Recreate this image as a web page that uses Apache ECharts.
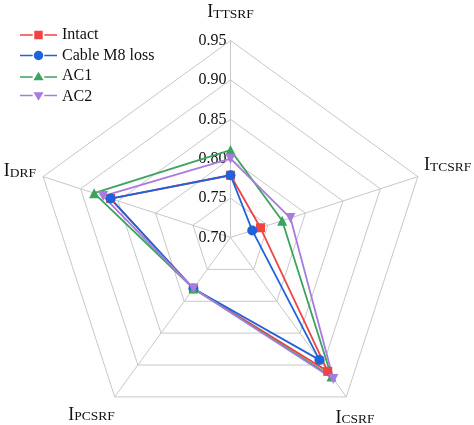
<!DOCTYPE html>
<html>
<head>
<meta charset="utf-8">
<script src="https://cdn.jsdelivr.net/npm/echarts@6/dist/echarts.min.js"></script>
<style>
  html, body { margin: 0; padding: 0; background: #fff; }
  #main { width: 474px; height: 425px; }
</style>
</head>
<body>
<div id="main"></div>
<script>
// indicators, counterclockwise from the top
const indicatorNames = ['ITTSRF', 'IDRF', 'IPCSRF', 'ICSRF', 'ITCSRF'];
const seriesNames = ['Intact', 'Cable M8 loss', 'AC1', 'AC2'];
const intact = [0.779, 0.860, 0.780, 0.910, 0.740];
const cableM8Loss = [0.779, 0.860, 0.780, 0.892, 0.729];
const ac1 = [0.811, 0.882, 0.780, 0.918, 0.769];
const ac2 = [0.800, 0.870, 0.780, 0.922, 0.780];
const axisMin = 0.70;
const axisMax = 0.95;

const colors = ['#EF4444', '#1F63DB', '#3BA35E', '#A87BE0'];
const symbols = [
  'rect',
  'circle',
  'triangle',
  'path://M0,0 L10,0 L5,9 Z',
];
const symbolSizes = [9, 10, 10, 10];
const legendIcons = [
  'path://M0,4.25 L12,4.25 L12,5.75 L0,5.75 Z M13.5,1 L21.5,1 L21.5,9 L13.5,9 Z M23,4.25 L35,4.25 L35,5.75 L23,5.75 Z',
  'path://M0,4.25 L12,4.25 L12,5.75 L0,5.75 Z M13,5 A4.5,4.5 0 1,1 22,5 A4.5,4.5 0 1,1 13,5 Z M23,4.25 L35,4.25 L35,5.75 L23,5.75 Z',
  'path://M0,5.25 L12,5.25 L12,6.75 L0,6.75 Z M17.5,1 L22.3,9 L12.7,9 Z M23,5.25 L35,5.25 L35,6.75 L23,6.75 Z',
  'path://M0,3.25 L12,3.25 L12,4.75 L0,4.75 Z M12.7,1 L22.3,1 L17.5,9 Z M23,3.25 L35,3.25 L35,4.75 L23,4.75 Z',
];
const values = [intact, cableM8Loss, ac1, ac2];

// per-axis name placement: gap from the outer ring and text anchoring
const namePlacement = [
  { gap: 19.5, align: 'center', verticalAlign: 'bottom', padding: 0 },
  { gap: 7.6, align: 'right', verticalAlign: 'middle', padding: [0, 0, 6, 0] },
  { gap: 0, align: 'right', verticalAlign: 'top', padding: [9, 0, 0, 0] },
  { gap: 14.8, align: 'center', verticalAlign: 'top', padding: 0 },
  { gap: 6.5, align: 'left', verticalAlign: 'bottom', padding: 0 },
];

const font = 'Liberation Serif, Times New Roman, serif';
const myChart = echarts.init(document.getElementById('main'));

const option = {
  backgroundColor: '#fff',
  animation: false,
  legend: {
    orient: 'vertical',
    left: 20,
    top: 25,
    padding: 0,
    itemWidth: 37,
    itemHeight: 10,
    itemGap: 0.5,
    textStyle: { fontFamily: font, fontSize: 16, lineHeight: 20, color: '#111' },
    data: seriesNames.map((name, i) => ({
      name,
      icon: legendIcons[i],
      itemStyle: { color: colors[i] },
    })),
  },
  radar: {
    center: [230.5, 237.5],
    radius: 197,
    startAngle: 90,
    splitNumber: 5,
    shape: 'polygon',
    nameGap: 6,
    axisName: {
      color: '#111',
      formatter: (name) => `{a|${name.slice(0, 1)}}{b|${name.slice(1)}}`,
      rich: {
        a: { fontFamily: font, fontSize: 18, color: '#111', verticalAlign: 'bottom' },
        b: { fontFamily: font, fontSize: 13.5, color: '#111', verticalAlign: 'bottom' },
      },
    },
    axisLine: { lineStyle: { color: '#c8c8c8', width: 1 } },
    splitLine: { lineStyle: { color: '#c8c8c8', width: 1 } },
    splitArea: { show: false },
    axisLabel: { show: false },
    indicator: indicatorNames.map((name, i) => {
      const p = namePlacement[i];
      const ind = {
        name,
        min: axisMin,
        max: axisMax,
        nameGap: p.gap,
        nameTextStyle: { align: p.align, verticalAlign: p.verticalAlign, padding: p.padding },
      };
      if (i === 0) {
        ind.axisLabel = {
          show: true,
          margin: 4,
          fontFamily: font,
          fontSize: 16,
          color: '#111',
          formatter: (v) => Number(v).toFixed(2),
        };
      }
      return ind;
    }),
  },
  series: [
    {
      type: 'radar',
      data: seriesNames.map((name, i) => ({
        name,
        value: values[i],
        symbol: symbols[i],
        symbolSize: symbolSizes[i],
        lineStyle: { color: colors[i], width: 1.8 },
        itemStyle: { color: colors[i] },
      })),
    },
  ],
};

myChart.setOption(option);
</script>
</body>
</html>
